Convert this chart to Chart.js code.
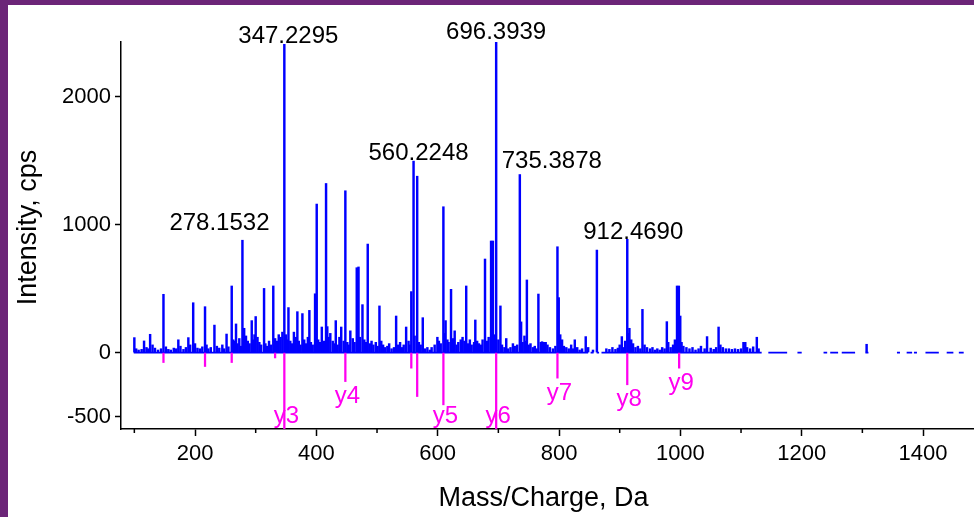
<!DOCTYPE html>
<html>
<head>
<meta charset="utf-8">
<script src="https://cdn.jsdelivr.net/npm/chart.js@4.4.1/dist/chart.umd.min.js"></script>
<style>
  html, body { margin: 0; padding: 0; }
  body { width: 974px; height: 517px; background: #6c2578; position: relative; overflow: hidden; }
  #panel { position: absolute; left: 8px; top: 5px; right: 0; bottom: 0; background: #ffffff; }
  #chart { position: absolute; left: 0; top: 0; }
</style>
</head>
<body>
<div id="panel"></div>
<canvas id="chart" width="974" height="517"></canvas>
<script>
// Centroided fragment peaks (m/z, intensity in cps)
const peakMz = [100, 116, 126, 148, 172.5, 189, 197, 216.5, 232, 252, 260.5, 267.6,
  278.1532, 281, 293.5, 300, 313.8, 329, 347.2295, 354, 368.7, 377, 388.5, 397.9,
  400.6, 409, 416, 418, 432, 441, 447.8, 456, 466.6, 469.5, 476, 484.7, 504, 531.5,
  548, 556.5, 560.2248, 566.2, 575.4, 599.5, 609.4, 613, 622, 628, 647, 662, 678,
  688, 691, 696.3939, 703.4, 713, 735.3878, 737.5, 747, 766, 797.4, 799.5, 826, 844,
  862.4, 903.5, 912.4690, 916, 937.5, 977.7, 994.5, 997.5, 999.8, 1044, 1063, 1107,
  1126, 1307];
const peakIntensity = [117, 91, 143, 456, 100, 117, 390, 359, 215, 145, 521, 224,
  879, 190, 250, 282, 502, 521, 2412, 352, 320, 305, 330, 460,
  1162, 200, 1323, 203, 250, 200, 1266, 170, 664, 670, 375, 849, 365, 286,
  200, 477, 1498, 1380, 273, 120, 1141, 250, 495, 170, 521, 255, 732,
  873, 873, 2430, 365, 110, 1393, 240, 568, 458, 828, 430, 100, 125,
  802, 125, 886, 190, 338, 242, 521, 521, 286, 125, 200, 80,
  120, 65];

// Peaks annotated with their m/z
const labelledPeaks = [278.1532, 347.2295, 560.2248, 696.3939, 735.3878, 912.4690];

// Low-level signal along the baseline
const noiseMz = [103, 107, 112, 120, 123, 130, 134, 139, 144, 152, 156, 160, 165, 169,
  176, 181, 185, 192, 200, 204, 208, 212, 219, 222, 226, 236, 240, 245, 248, 255, 263,
  266, 270, 273, 276, 284, 287, 290, 296, 298, 303, 306, 309, 316, 319, 322, 325, 332,
  335, 338, 341, 344, 350, 352, 357, 360, 363, 366, 371, 374, 380, 383, 386, 391, 394,
  403, 406, 410, 413, 420, 423, 427, 430, 435, 438, 445, 451, 454, 460, 463, 472, 479,
  482, 488, 491, 494, 498, 501, 507, 510, 513, 517, 520, 524, 528, 535, 538, 541, 544,
  552, 554, 562, 569, 572, 579, 583, 587, 590, 595, 602, 605, 611, 616, 618, 625, 631,
  634, 638, 641, 644, 650, 653, 656, 660, 665, 668, 671, 674, 681, 684, 693, 700, 706,
  710, 716, 720, 724, 727, 731, 740, 743, 745, 750, 753, 757, 760, 763, 770, 772, 775,
  778, 781, 785, 790, 794, 802, 805, 808, 812, 816, 820, 823, 830, 834, 838, 848, 856,
  878, 883, 888, 893, 897, 900, 907, 909, 914, 919, 922, 926, 930, 934, 941, 945, 950,
  954, 958, 962, 966, 970, 974, 980, 984, 988, 991, 1002, 1005, 1010, 1015, 1020, 1025,
  1030, 1034, 1040, 1050, 1055, 1059, 1066, 1070, 1075, 1080, 1085, 1090, 1095, 1100,
  1104, 1110, 1115, 1120, 1129];
const noiseIntensity = [30, 20, 25, 40, 30, 60, 35, 20, 30, 45, 25, 20, 35, 30,
  50, 25, 40, 60, 70, 35, 30, 45, 60, 30, 40, 50, 35, 60, 30, 45, 100,
  90, 70, 110, 50, 130, 90, 70, 100, 140, 120, 80, 60, 70, 50, 90, 60, 110,
  90, 140, 120, 160, 140, 100, 90, 70, 160, 120, 90, 60, 100, 70, 120, 80, 60,
  100, 80, 70, 90, 120, 150, 90, 70, 60, 120, 90, 80, 60, 110, 80, 120, 100,
  80, 70, 90, 60, 80, 50, 90, 60, 40, 50, 70, 30, 40, 60, 80, 40, 60,
  90, 60, 130, 80, 60, 30, 40, 20, 40, 60, 90, 70, 150, 100, 80, 110, 60,
  80, 100, 120, 90, 70, 100, 60, 80, 90, 70, 60, 100, 90, 120, 140, 100, 60,
  40, 30, 40, 70, 50, 60, 80, 130, 90, 60, 70, 40, 50, 30, 80, 85, 80,
  80, 60, 40, 30, 50, 140, 100, 50, 40, 30, 60, 30, 40, 20, 30, 40, 20,
  30, 25, 40, 25, 35, 60, 40, 90, 150, 100, 70, 40, 50, 30, 60, 40, 30,
  40, 20, 30, 20, 40, 30, 80, 40, 60, 100, 80, 50, 40, 30, 40, 20,
  30, 50, 30, 35, 25, 40, 60, 40, 30, 30, 25, 30, 25, 30,
  80, 40, 30, 45, 30];

// Matched fragment ions, drawn downward
const ionMz = [148, 216.5, 260.5, 332, 347.2295, 447.8, 556.5, 566.2, 609.4, 696.3939, 797.4, 912.4690, 998];
const ionIntensity = [-78, -109, -78, -42, -600, -227, -122, -344, -409, -600, -200, -252, -122];
const ionNames = ['', '', '', '', 'y3', 'y4', '', '', 'y5', 'y6', 'y7', 'y8', 'y9'];

// m/z ranges where the acquired trace is continuous
const segmentStart = [99, 852, 862, 870, 1145, 1193, 1236, 1247, 1266, 1305, 1357, 1373, 1385, 1404, 1439, 1459];
const segmentEnd = [848, 857, 866, 1134, 1176, 1200, 1242, 1260, 1288, 1310, 1362, 1382, 1390, 1426, 1450, 1467];

const xTicks = [200, 400, 600, 800, 1000, 1200, 1400];
const xMinorTicks = [100, 300, 500, 700, 900, 1100, 1300];
const yTicks = [-500, 0, 1000, 2000];

const BLUE = '#0000ff';
const MAGENTA = '#ff00f0';
const FONT = "'Liberation Sans', Arial, sans-serif";

const toPoints = (xs, ys) => xs.map((x, i) => ({ x, y: ys[i] }));

const baseline = [];
segmentStart.forEach((s, i) => {
  baseline.push({ x: s, y: 0 }, { x: segmentEnd[i], y: 0 }, { x: segmentEnd[i], y: null });
});

const annotate = {
  id: 'annotate',
  afterDraw(chart, args, opts) {
    const { ctx, chartArea: area, scales: { x, y } } = chart;
    ctx.save();

    // short unlabelled ticks on the m/z axis
    ctx.strokeStyle = '#000';
    ctx.lineWidth = 1.5;
    ctx.beginPath();
    xMinorTicks.forEach(v => {
      const px = x.getPixelForValue(v);
      ctx.moveTo(px, area.bottom);
      ctx.lineTo(px, area.bottom + 4);
    });
    ctx.stroke();

    // m/z annotations above the main peaks
    ctx.font = `24px ${FONT}`;
    ctx.fillStyle = '#000';
    ctx.textAlign = 'center';
    ctx.textBaseline = 'alphabetic';
    labelledPeaks.forEach((mz, k) => {
      const i = peakMz.indexOf(mz);
      const px = x.getPixelForValue(mz) + opts.peakDx[k];
      const py = y.getPixelForValue(Math.min(peakIntensity[i], y.max)) + opts.peakDy[k];
      ctx.fillText(mz.toFixed(4), px, py);
    });

    // fragment ion names under their sticks
    ctx.fillStyle = MAGENTA;
    ctx.textBaseline = 'middle';
    ionNames.forEach((name, i) => {
      if (!name) return;
      const px = x.getPixelForValue(ionMz[i]) + 2;
      const end = Math.min(y.getPixelForValue(ionIntensity[i]), area.bottom);
      const ty = Math.min(end + 15, area.bottom - 13);
      ctx.fillText(name, px, ty);
    });

    // axis titles
    ctx.fillStyle = '#000';
    ctx.font = `27px ${FONT}`;
    ctx.textAlign = 'center';
    ctx.textBaseline = 'middle';
    ctx.fillText(opts.xTitle, (area.left + area.right) / 2 - 4, 499);
    ctx.translate(28.6, (area.top + area.bottom) / 2 - 8);
    ctx.rotate(-Math.PI / 2);
    ctx.fillText(opts.yTitle, 0, 0);
    ctx.restore();
  }
};

const tickFont = { family: FONT, size: 22, lineHeight: 1.2 };

new Chart(document.getElementById('chart'), {
  type: 'bar',
  data: {
    datasets: [
      { type: 'line', data: baseline, borderColor: BLUE, borderWidth: 1.8, pointRadius: 0,
        spanGaps: false, tension: 0, order: 3 },
      { data: toPoints(noiseMz, noiseIntensity), backgroundColor: BLUE, barThickness: 1.8,
        grouped: false, order: 2 },
      { data: toPoints(peakMz, peakIntensity), backgroundColor: BLUE, barThickness: 1.8,
        grouped: false, order: 1 },
      { data: toPoints(ionMz, ionIntensity), backgroundColor: MAGENTA, barThickness: 1.6,
        grouped: false, order: 0 }
    ]
  },
  options: {
    responsive: false,
    animation: false,
    devicePixelRatio: 1,
    layout: { padding: { top: 42, left: 0, right: 0, bottom: 0 } },
    plugins: {
      legend: { display: false },
      tooltip: { enabled: false },
      annotate: {
        xTitle: 'Mass/Charge, Da',
        yTitle: 'Intensity, cps',
        peakDx: [-23, 4, 5, 0, 32, 6],
        peakDy: [-10, -1, -1, -3, -7, 0]
      }
    },
    scales: {
      x: {
        type: 'linear', min: 78, max: 1484, offset: false,
        afterFit: s => { s.height = 88; },
        afterBuildTicks: s => { s.ticks = xTicks.map(v => ({ value: v })); },
        grid: { drawOnChartArea: false, offset: false, tickLength: 7, tickColor: '#000', tickWidth: 1.5 },
        border: { color: '#000', width: 1.5 },
        ticks: { color: '#000', font: tickFont, padding: 5, maxRotation: 0, autoSkip: false,
          callback: v => String(v) }
      },
      y: {
        type: 'linear', min: -598, max: 2430,
        afterFit: s => { s.width = 121; },
        afterBuildTicks: s => { s.ticks = yTicks.map(v => ({ value: v })); },
        grid: { drawOnChartArea: false, tickLength: 6, tickColor: '#000', tickWidth: 1.5 },
        border: { color: '#000', width: 1.5 },
        ticks: { color: '#000', font: tickFont, padding: 4, autoSkip: false,
          callback: v => String(v) }
      }
    }
  },
  plugins: [annotate]
});
</script>
</body>
</html>
